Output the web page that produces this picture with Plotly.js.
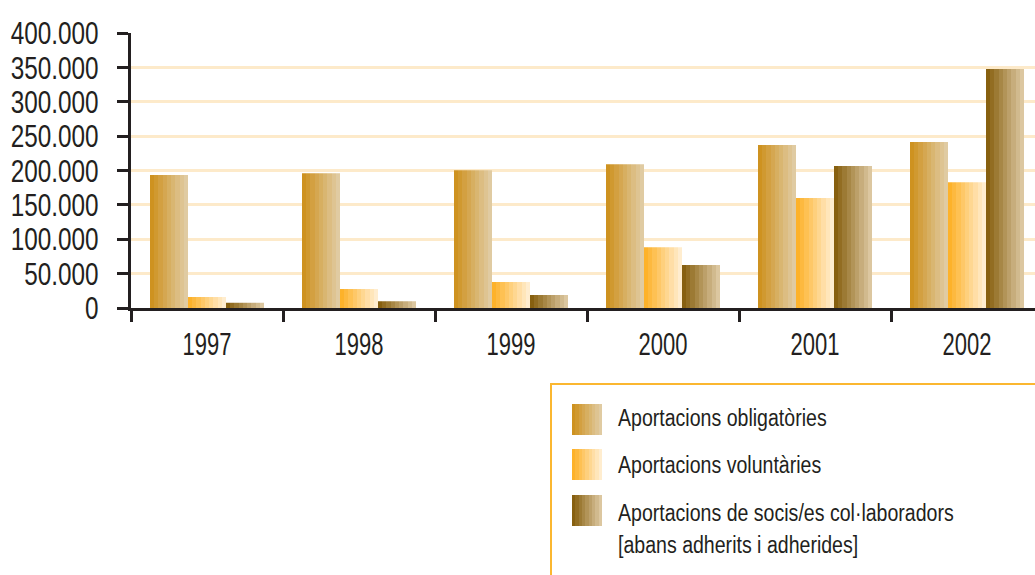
<!DOCTYPE html>
<html>
<head>
<meta charset="utf-8">
<script src="https://cdn.plot.ly/plotly-3.0.1.min.js"></script>
<style>
  html, body { margin: 0; padding: 0; background: #ffffff; overflow: hidden; }
  #chart { width: 1035px; height: 575px; }
</style>
</head>
<body>
<div id="chart"></div>
<script>
// ---- data ----
const years = ['1997', '1998', '1999', '2000', '2001', '2002'];
const obligatories = [193500, 196000, 200500, 209000, 237000, 241500];
const voluntaries = [16000, 27500, 38000, 88500, 160000, 183000];
const socis = [7500, 10000, 19000, 62500, 206500, 347500];
const seriesNames = [
  'Aportacions obligatòries',
  'Aportacions voluntàries',
  'Aportacions de socis/es col·laboradors<br>[abans adherits i adherides]'
];
const yTickVals = [0, 50000, 100000, 150000, 200000, 250000, 300000, 350000, 400000];

// ---- styling ----
const FONT = '"Liberation Sans", Arial, sans-serif';
const gradients = [
  ['#CE9220', '#E0CBA2'],
  ['#FDB22A', '#FFEDCF'],
  ['#876010', '#DCC7A0']
];
const PL = 131, PT = 33, PW = 904, PH = 275;
const px = x => (x - PL) / PW;
const py = y => (PT + PH - y) / PH;

const seriesData = [obligatories, voluntaries, socis];
const traces = seriesData.map((vals, i) => ({
  type: 'bar',
  x: years,
  y: vals,
  name: seriesNames[i],
  marker: { color: gradients[i][0], line: { width: 0 } },
  hoverinfo: 'x+y'
}));

const shapes = [];
// legend frame (top & left edges visible)
shapes.push({ type: 'line', xref: 'paper', yref: 'paper', x0: px(551), x1: px(1040), y0: py(384), y1: py(384), line: { color: '#FBB730', width: 2 } });
shapes.push({ type: 'line', xref: 'paper', yref: 'paper', x0: px(551), x1: px(551), y0: py(383), y1: py(580), line: { color: '#FBB730', width: 2 } });
const swatchTops = [404, 449, 495];
swatchTops.forEach((t, i) => {
  shapes.push({ type: 'rect', xref: 'paper', yref: 'paper', x0: px(572), x1: px(602), y0: py(t + 31), y1: py(t), fillcolor: gradients[i][0], line: { width: 0 } });
});

const annotations = [];
const textCenters = [418, 465, 513];
seriesNames.forEach((name, i) => {
  name.split('<br>').forEach((line, j) => {
    annotations.push({
      xref: 'paper', yref: 'paper', x: px(616), y: py(textCenters[i] + j * 32),
      xanchor: 'left', yanchor: 'middle', showarrow: false, align: 'left',
      text: line, font: { family: FONT, size: 23, color: '#231F20' }
    });
  });
});

const layout = {
  width: 1035, height: 575,
  margin: { l: PL, r: 1035 - PL - PW, t: PT, b: 575 - PT - PH, pad: 0 },
  paper_bgcolor: '#ffffff', plot_bgcolor: '#ffffff',
  separators: ',.',
  showlegend: false,
  barmode: 'group', bargap: 0.25, bargroupgap: 0,
  font: { family: FONT, color: '#231F20' },
  xaxis: {
    type: 'category', range: [-0.5, -0.5 + PW / 152],
    showline: true, linecolor: '#231F20', linewidth: 3,
    ticks: 'outside', tickson: 'boundaries', ticklen: 11, tickwidth: 3, tickcolor: '#231F20',
    showgrid: false, zeroline: false,
    tickfont: { family: FONT, size: 31, color: '#231F20' },
    ticklabelstandoff: 7
  },
  yaxis: {
    range: [0, 400000], tickmode: 'array', tickvals: yTickVals, tickformat: ',',
    showline: true, linecolor: '#231F20', linewidth: 3,
    ticks: 'outside', ticklen: 11, tickwidth: 3, tickcolor: '#231F20',
    showgrid: true, gridcolor: '#FDEACA', gridwidth: 3, zeroline: false,
    tickfont: { family: FONT, size: 32, color: '#231F20' },
    ticklabelstandoff: 12
  },
  shapes: shapes,
  annotations: annotations
};

function banded(id, c0, c1, n) {
  const ns = 'http://www.w3.org/2000/svg';
  const g = document.createElementNS(ns, 'linearGradient');
  g.setAttribute('id', id);
  g.setAttribute('x1', '0'); g.setAttribute('x2', '1');
  g.setAttribute('y1', '0'); g.setAttribute('y2', '0');
  const a = [parseInt(c0.slice(1,3),16), parseInt(c0.slice(3,5),16), parseInt(c0.slice(5,7),16)];
  const b = [parseInt(c1.slice(1,3),16), parseInt(c1.slice(3,5),16), parseInt(c1.slice(5,7),16)];
  for (let k = 0; k < n; k++) {
    const t = k / (n - 1);
    const col = 'rgb(' + a.map((v, m) => Math.round(v + (b[m] - v) * t)).join(',') + ')';
    [k / n, (k + 1) / n].forEach(off => {
      const s = document.createElementNS(ns, 'stop');
      s.setAttribute('offset', off);
      s.setAttribute('stop-color', col);
      g.appendChild(s);
    });
  }
  return g;
}

// horizontally condense text to mimic the narrow typeface of the original
function condense(el, f, keepLeft) {
  const w = el.getComputedTextLength();
  if (!w) return;
  if (keepLeft) {
    const anchor = el.getAttribute('text-anchor') || 'start';
    const x = parseFloat(el.getAttribute('x') || '0');
    let left = x;
    if (anchor === 'middle') left = x - w / 2;
    else if (anchor === 'end') left = x - w;
    el.setAttribute('text-anchor', 'start');
    el.setAttribute('x', left);
    el.querySelectorAll('tspan').forEach(t => { if (t.hasAttribute('x')) t.setAttribute('x', left); });
  }
  el.setAttribute('textLength', w * f);
  el.setAttribute('lengthAdjust', 'spacingAndGlyphs');
}

Plotly.newPlot('chart', traces, layout, { displayModeBar: false, staticPlot: true }).then(gd => {
  const svg = gd.querySelector('svg.main-svg');
  let defs = svg.querySelector('defs');
  if (!defs) { defs = document.createElementNS('http://www.w3.org/2000/svg', 'defs'); svg.insertBefore(defs, svg.firstChild); }
  gradients.forEach((g, i) => defs.appendChild(banded('barGrad' + i, g[0], g[1], 9)));
  gd.querySelectorAll('.barlayer .trace').forEach((tr, i) => {
    tr.querySelectorAll('path').forEach(p => { p.style.fill = 'url(#barGrad' + i + ')'; });
  });
  [2, 3, 4].forEach((idx, i) => {
    gd.querySelectorAll('.shapelayer path[data-index="' + idx + '"]').forEach(p => { p.style.fill = 'url(#barGrad' + i + ')'; p.style.fillOpacity = 1; });
  });
  gd.querySelectorAll('.ytick text').forEach(t => condense(t, 0.76, false));
  gd.querySelectorAll('.xtick text').forEach(t => condense(t, 0.71, false));
  gd.querySelectorAll('.annotation-text').forEach(t => condense(t, 0.85, true));
});
</script>
</body>
</html>
